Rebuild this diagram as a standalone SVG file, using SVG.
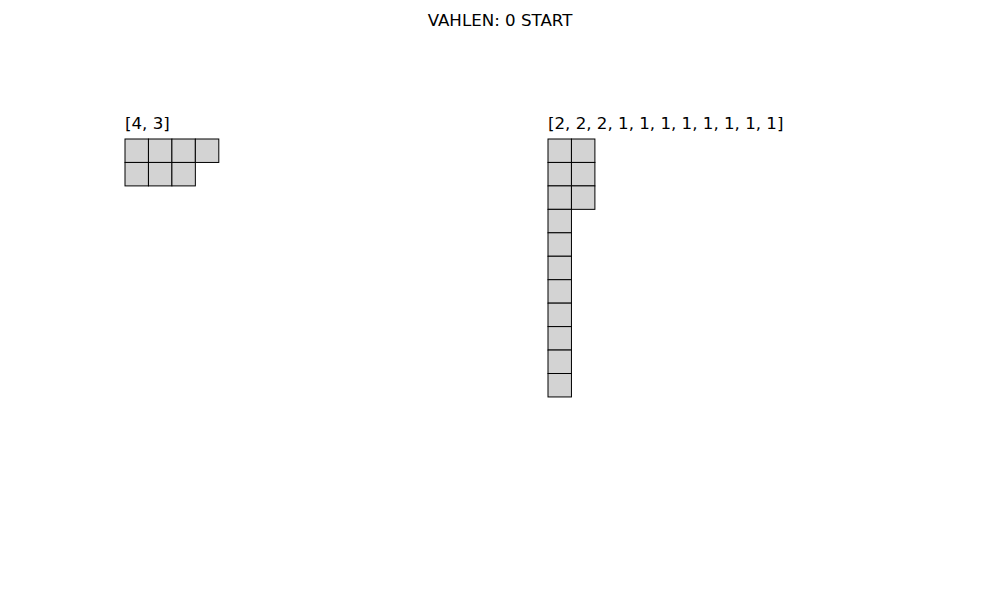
<svg xmlns="http://www.w3.org/2000/svg" width="1000" height="600" viewBox="0 0 1000 600">
<style>
text{font-family:"DejaVu Sans",sans-serif;font-size:16.67px;fill:#000}
.c{fill:#d3d3d3;stroke:#000;stroke-width:1}
</style>
<rect width="1000" height="600" fill="#fff"/>
<text x="500" y="26" text-anchor="middle">VAHLEN: 0 START</text>
<g id="p1">
<text x="125" y="129">[4, 3]</text>
<rect class="c" x="125" y="139" width="23.45" height="23.45"/>
<rect class="c" x="148.45" y="139" width="23.45" height="23.45"/>
<rect class="c" x="171.9" y="139" width="23.45" height="23.45"/>
<rect class="c" x="195.35" y="139" width="23.45" height="23.45"/>
<rect class="c" x="125" y="162.45" width="23.45" height="23.45"/>
<rect class="c" x="148.45" y="162.45" width="23.45" height="23.45"/>
<rect class="c" x="171.9" y="162.45" width="23.45" height="23.45"/>
</g>
<g id="p2">
<text x="548" y="129">[2, 2, 2, 1, 1, 1, 1, 1, 1, 1, 1]</text>
<rect class="c" x="548" y="139" width="23.45" height="23.45"/>
<rect class="c" x="571.45" y="139" width="23.45" height="23.45"/>
<rect class="c" x="548" y="162.45" width="23.45" height="23.45"/>
<rect class="c" x="571.45" y="162.45" width="23.45" height="23.45"/>
<rect class="c" x="548" y="185.9" width="23.45" height="23.45"/>
<rect class="c" x="571.45" y="185.9" width="23.45" height="23.45"/>
<rect class="c" x="548" y="209.35" width="23.45" height="23.45"/>
<rect class="c" x="548" y="232.8" width="23.45" height="23.45"/>
<rect class="c" x="548" y="256.25" width="23.45" height="23.45"/>
<rect class="c" x="548" y="279.7" width="23.45" height="23.45"/>
<rect class="c" x="548" y="303.15" width="23.45" height="23.45"/>
<rect class="c" x="548" y="326.6" width="23.45" height="23.45"/>
<rect class="c" x="548" y="350.05" width="23.45" height="23.45"/>
<rect class="c" x="548" y="373.5" width="23.45" height="23.45"/>
</g>
<g id="connectors"/>
</svg>
